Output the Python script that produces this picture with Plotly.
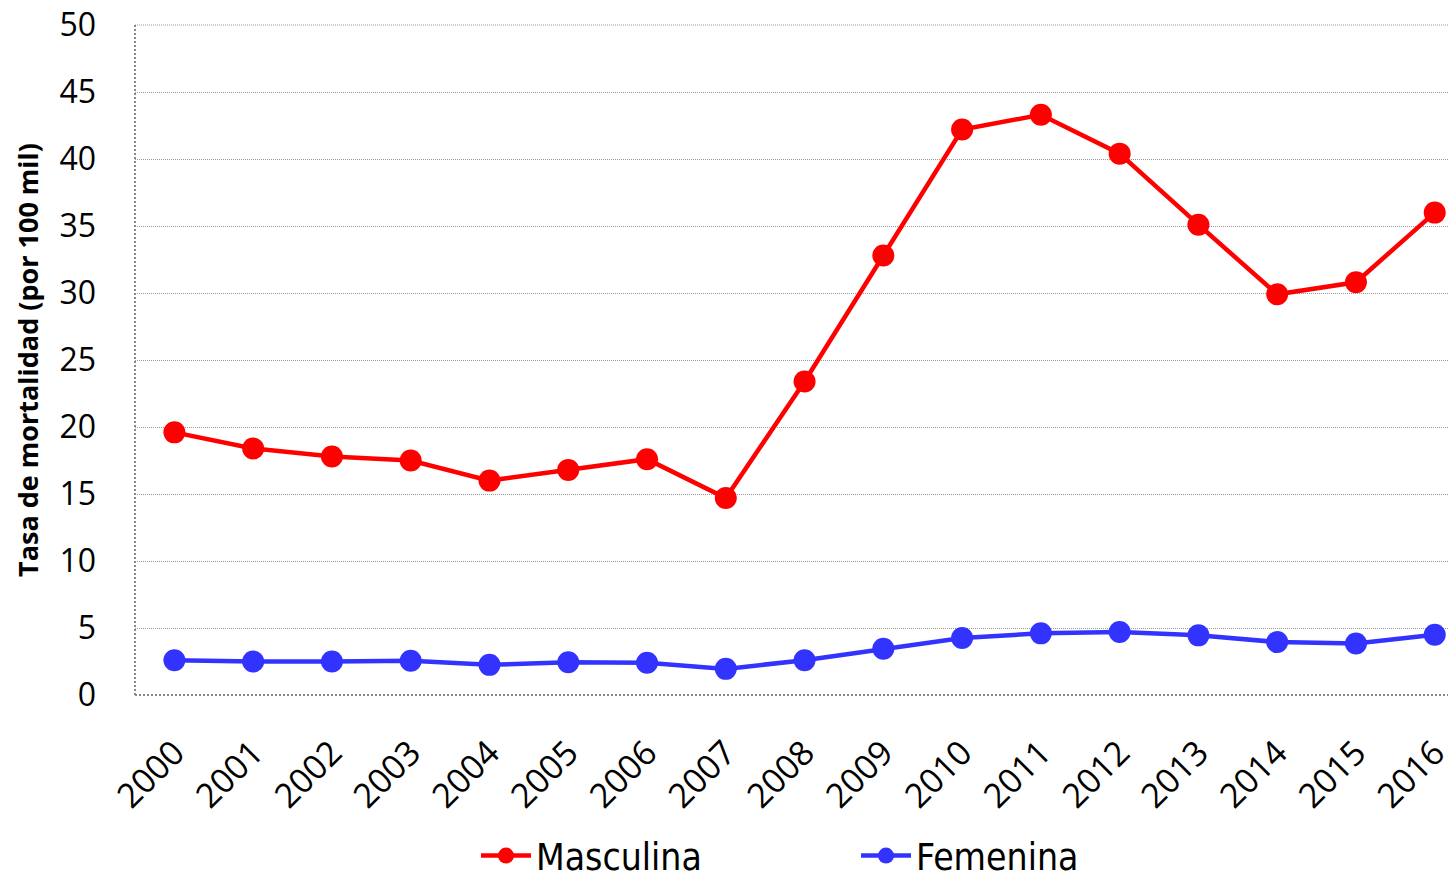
import plotly.graph_objects as go

years = [str(y) for y in range(2000, 2017)]
masculina = [19.6, 18.4, 17.8, 17.5, 16.0, 16.8, 17.6, 14.7, 23.4, 32.8, 42.2, 43.3, 40.4, 35.1, 29.9, 30.8, 36.0]
femenina = [2.6, 2.5, 2.5, 2.55, 2.25, 2.45, 2.4, 1.95, 2.6, 3.45, 4.25, 4.6, 4.7, 4.45, 3.95, 3.85, 4.5]

fig = go.Figure()
fig.add_trace(go.Scatter(x=years, y=masculina, name="Masculina", mode="lines+markers",
                         line=dict(color="#FF0000", width=4.5), marker=dict(size=22, color="#FF0000"),
                         cliponaxis=False))
fig.add_trace(go.Scatter(x=years, y=femenina, name="Femenina", mode="lines+markers",
                         line=dict(color="#3333FF", width=4.5), marker=dict(size=22, color="#3333FF"),
                         cliponaxis=False))

# page body has an 8px margin, so the figure is shifted by 8px
fig.update_layout(
    width=1448, height=910,
    margin=dict(l=127, r=0, t=17, b=223),
    plot_bgcolor="white", paper_bgcolor="white",
    font=dict(family="Open Sans", color="black"),
    showlegend=True,
    legend=dict(orientation="h", x=(476 - 135) / 1321, xanchor="left", y=-(856 - 695) / 670,
                yanchor="middle",
                font=dict(size=37, family="Liberation Sans Narrow, DejaVu Sans Condensed, Roboto Condensed, sans-serif"),
                itemwidth=50, entrywidth=315, tracegroupgap=0),
    xaxis=dict(type="category", range=[-0.5, 16.27], tickangle=-45, automargin=False,
               tickfont=dict(size=34), showgrid=False, ticks="", showline=False,
               ticklabelstandoff=30, ticklabeloverflow="allow"),
    yaxis=dict(range=[0, 50], dtick=5, tickfont=dict(size=32), showgrid=True, automargin=False,
               gridcolor="#999999", griddash="1px,1px", gridwidth=1, zeroline=False,
               ticks="", showline=False, ticklabelstandoff=38, ticklabeloverflow="allow",
               title=dict(text="<b>Tasa de mortalidad (por 100 mil)</b>", font=dict(size=27), standoff=12)),
)
fig.add_shape(type="line", xref="paper", yref="paper", x0=0, x1=1, y0=1, y1=1,
              line=dict(color="#999999", width=1, dash="1px,1px"))
fig.add_shape(type="line", xref="paper", yref="paper", x0=0, x1=0, y0=0, y1=1,
              line=dict(color="#888888", width=2, dash="2px,2px"))
fig.add_shape(type="line", xref="paper", yref="paper", x0=0, x1=1, y0=0, y1=0,
              line=dict(color="#888888", width=2, dash="2px,2px"))

fig.write_html("out.html")
